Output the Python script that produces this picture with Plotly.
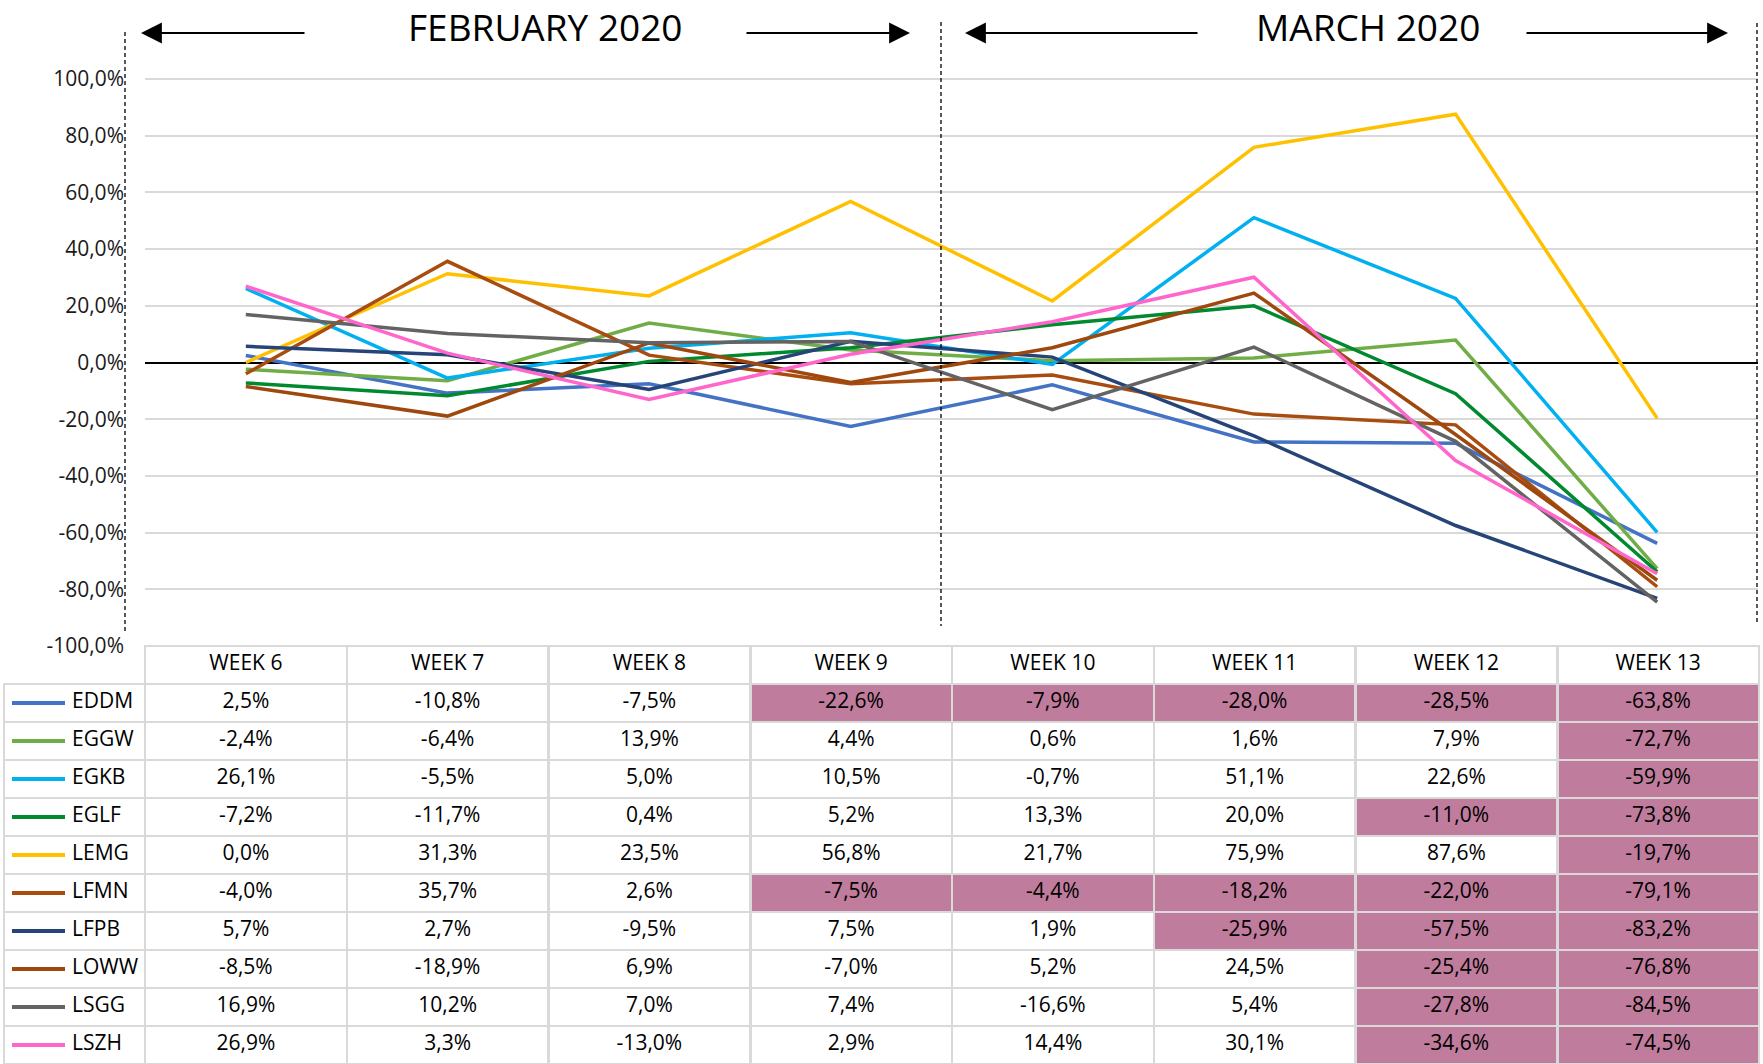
import plotly.graph_objects as go

# ---------------- data ----------------
weeks = ["WEEK 6", "WEEK 7", "WEEK 8", "WEEK 9", "WEEK 10", "WEEK 11", "WEEK 12", "WEEK 13"]
airports = ["EDDM", "EGGW", "EGKB", "EGLF", "LEMG", "LFMN", "LFPB", "LOWW", "LSGG", "LSZH"]

eddm = [2.5, -10.8, -7.5, -22.6, -7.9, -28.0, -28.5, -63.8]
eggw = [-2.4, -6.4, 13.9, 4.4, 0.6, 1.6, 7.9, -72.7]
egkb = [26.1, -5.5, 5.0, 10.5, -0.7, 51.1, 22.6, -59.9]
eglf = [-7.2, -11.7, 0.4, 5.2, 13.3, 20.0, -11.0, -73.8]
lemg = [0.0, 31.3, 23.5, 56.8, 21.7, 75.9, 87.6, -19.7]
lfmn = [-4.0, 35.7, 2.6, -7.5, -4.4, -18.2, -22.0, -79.1]
lfpb = [5.7, 2.7, -9.5, 7.5, 1.9, -25.9, -57.5, -83.2]
loww = [-8.5, -18.9, 6.9, -7.0, 5.2, 24.5, -25.4, -76.8]
lsgg = [16.9, 10.2, 7.0, 7.4, -16.6, 5.4, -27.8, -84.5]
lszh = [26.9, 3.3, -13.0, 2.9, 14.4, 30.1, -34.6, -74.5]
series = [eddm, eggw, egkb, eglf, lemg, lfmn, lfpb, loww, lsgg, lszh]

# highlighted (declining) cells in the table
hl_eddm = [0, 0, 0, 1, 1, 1, 1, 1]
hl_eggw = [0, 0, 0, 0, 0, 0, 0, 1]
hl_egkb = [0, 0, 0, 0, 0, 0, 0, 1]
hl_eglf = [0, 0, 0, 0, 0, 0, 1, 1]
hl_lemg = [0, 0, 0, 0, 0, 0, 0, 1]
hl_lfmn = [0, 0, 0, 1, 1, 1, 1, 1]
hl_lfpb = [0, 0, 0, 0, 0, 1, 1, 1]
hl_loww = [0, 0, 0, 0, 0, 0, 1, 1]
hl_lsgg = [0, 0, 0, 0, 0, 0, 1, 1]
hl_lszh = [0, 0, 0, 0, 0, 0, 1, 1]
highlights = [hl_eddm, hl_eggw, hl_egkb, hl_eglf, hl_lemg, hl_lfmn, hl_lfpb, hl_loww, hl_lsgg, hl_lszh]

y_ticks = [-100, -80, -60, -40, -20, 0, 20, 40, 60, 80, 100]
periods = ["FEBRUARY 2020", "MARCH 2020"]

# ---------------- styles ----------------
colors = ["#4472C4", "#70AD47", "#00B0F0", "#00892E", "#FFC000",
          "#A84C10", "#264478", "#9E480E", "#636363", "#FF66CC"]
HL = "#BF7C9C"
GRID = "#D9D9D9"
FONT = "Open Sans"
W, H = 1763, 1064


def px(x):
    return x / W


def py(y):
    return 1 - y / H


def pct(v):
    return f"{v:.1f}".replace(".", ",") + "%"


fig = go.Figure()

# main lines
for name, vals, col in zip(airports, series, colors):
    fig.add_trace(go.Scatter(
        x=weeks, y=vals, mode="lines", name=name,
        line=dict(color=col, width=3.5), showlegend=False, hoverinfo="skip",
        xaxis="x", yaxis="y"))

# table
name_col = ["\u00a0" * 11 + a for a in airports]
cell_vals = [name_col] + [[pct(series[i][j]) for i in range(len(airports))] for j in range(len(weeks))]
cell_fill = [["rgba(0,0,0,0)"] * len(airports)] + [
    [HL if highlights[i][j] else "white" for i in range(len(airports))] for j in range(len(weeks))]

fig.add_trace(go.Table(
    domain=dict(x=[px(4), px(1759)], y=[0, py(646)]),
    columnwidth=[141] + [201.7] * len(weeks),
    header=dict(values=[""] + weeks, height=38,
                fill_color=["rgba(0,0,0,0)"] + ["white"] * len(weeks),
                line=dict(color=["rgba(0,0,0,0)"] + [GRID] * len(weeks), width=2.5),
                font=dict(family=FONT, size=21, color="#000000"), align="center"),
    cells=dict(values=cell_vals, height=38, fill_color=cell_fill,
               line=dict(color=GRID, width=2.5),
               font=dict(family=FONT, size=21, color="#000000"),
               align=["left"] + ["center"] * len(weeks)),
))

# legend swatches in first table column
for i, col in enumerate(colors):
    fig.add_trace(go.Scatter(
        x=[8, 61], y=[i + 0.5, i + 0.5], mode="lines",
        line=dict(color=col, width=4), showlegend=False, hoverinfo="skip",
        xaxis="x2", yaxis="y2"))

shapes = []
# dashed vertical separators
for x0, y0, y1 in [(125, 32, 633), (941, 22, 626), (1757, 23, 625)]:
    shapes.append(dict(type="line", xref="paper", yref="paper",
                       x0=px(x0), x1=px(x0), y0=py(y0), y1=py(y1),
                       line=dict(color="black", width=1.3, dash="4px,3px")))

annotations = []
# period titles
for txt, xc in zip(periods, [545, 1368]):
    annotations.append(dict(text=txt, xref="paper", yref="paper", x=px(xc), y=py(26),
                            xanchor="center", yanchor="middle", showarrow=False,
                            font=dict(family=FONT, size=37, color="black")))
# arrows (head position, tail offset in px)
for xh, ax in [(141, 165), (910, -165), (965, 234), (1728, -203)]:
    annotations.append(dict(text="", xref="paper", yref="paper", x=px(xh), y=py(33),
                            ax=ax, ay=0, axref="pixel", ayref="pixel",
                            showarrow=True, arrowhead=2, arrowsize=1.9, arrowwidth=2.2,
                            arrowcolor="black", standoff=0, startstandoff=0))

y_lo, y_hi = -100, 110
scale = (646 - 79) / 200.0
top_px = 646 - (y_hi - y_lo) * scale

fig.update_layout(
    width=W, height=H, autosize=False,
    margin=dict(l=0, r=0, t=0, b=0, pad=0, autoexpand=False),
    paper_bgcolor="white", plot_bgcolor="white",
    font=dict(family=FONT, size=20, color="#222222"),
    xaxis=dict(domain=[px(145), px(1758)], type="category", categoryorder="array",
               categoryarray=weeks, range=[-0.5, len(weeks) - 0.5], automargin=False,
               showticklabels=False, showgrid=False, zeroline=False, showline=False, ticks=""),
    yaxis=dict(domain=[py(646), py(top_px)], range=[y_lo, y_hi], automargin=False,
               tickvals=y_ticks, ticktext=[pct(v) for v in y_ticks],
               showgrid=True, gridcolor=GRID, gridwidth=2,
               zeroline=True, zerolinecolor="black", zerolinewidth=1.5,
               showline=False, ticks="", ticklabelstandoff=20,
               tickfont=dict(family=FONT, size=21, color="#1a1a1a")),
    xaxis2=dict(domain=[px(4), px(145)], range=[0, 141], visible=False, fixedrange=True,
                automargin=False, anchor="y2"),
    yaxis2=dict(domain=[0, py(684)], range=[len(airports), 0], visible=False, fixedrange=True,
                automargin=False, anchor="x2"),
    shapes=shapes, annotations=annotations,
)

fig.write_html("out.html", config={"displayModeBar": False},
               post_script="document.body.style.margin='0';document.body.style.overflow='hidden';")
